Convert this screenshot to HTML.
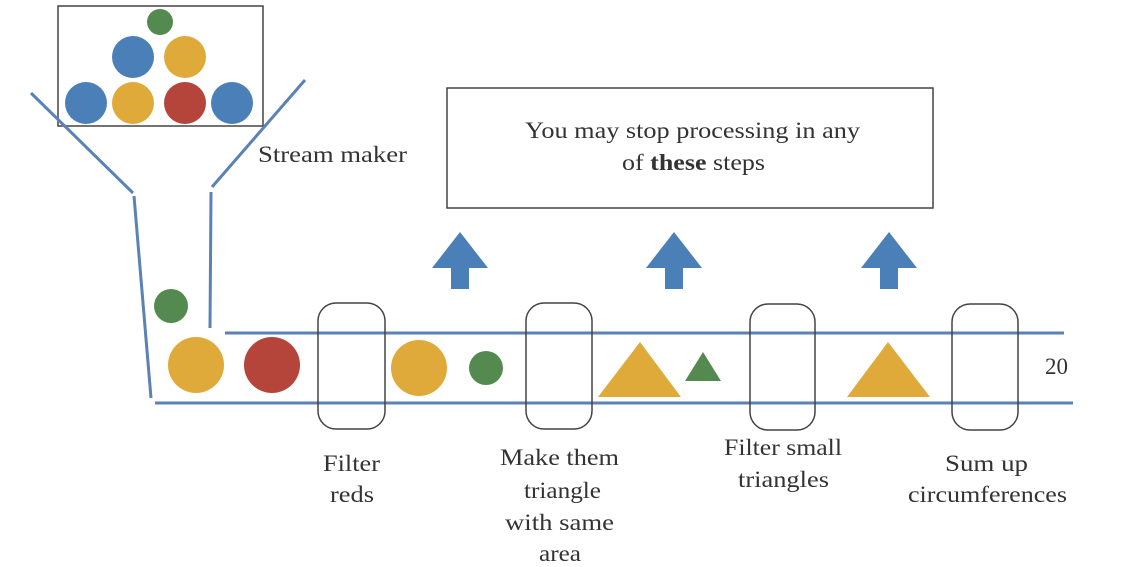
<!DOCTYPE html>
<html><head><meta charset="utf-8"><style>
html,body{margin:0;padding:0;background:#fff;}
svg{display:block;}
text{font-family:"Liberation Serif",serif;fill:#333;font-size:23px;}
</style></head><body>
<svg width="1125" height="567" viewBox="0 0 1125 567" xmlns="http://www.w3.org/2000/svg">
<rect x="58" y="6" width="205" height="120" fill="none" stroke="#444" stroke-width="1.5"/>
<circle cx="160" cy="22" r="13" fill="#548a4f"/>
<circle cx="133" cy="57" r="21" fill="#4a7fb8"/>
<circle cx="185" cy="57" r="21" fill="#e0aa3b"/>
<circle cx="86" cy="103" r="21" fill="#4a7fb8"/>
<circle cx="133" cy="103" r="21" fill="#e0aa3b"/>
<circle cx="185" cy="103" r="21" fill="#b5443b"/>
<circle cx="232" cy="103" r="21" fill="#4a7fb8"/>
<g stroke="#5b82b5" stroke-width="3" fill="none">
<line x1="31" y1="93" x2="133" y2="193"/>
<line x1="134" y1="196" x2="151" y2="398"/>
<line x1="305" y1="80" x2="212" y2="187"/>
<line x1="211" y1="192" x2="210" y2="328"/>
<line x1="225" y1="333" x2="1064" y2="333"/>
<line x1="155" y1="403" x2="1073" y2="403"/>
</g>
<text x="258" y="162" textLength="149" lengthAdjust="spacingAndGlyphs">Stream maker</text>
<circle cx="171" cy="306" r="17" fill="#548a4f"/>
<circle cx="196" cy="365" r="28" fill="#e0aa3b"/>
<circle cx="272" cy="365" r="28" fill="#b5443b"/>
<circle cx="419" cy="368" r="28" fill="#e0aa3b"/>
<circle cx="486" cy="368" r="17" fill="#548a4f"/>
<polygon points="598,397 681,397 640,342" fill="#e0aa3b"/>
<polygon points="685,381 721,381 703,352" fill="#548a4f"/>
<polygon points="847,397 930,397 888,342" fill="#e0aa3b"/>
<g fill="none" stroke="#444" stroke-width="1.5">
<rect x="318" y="303" width="67" height="126" rx="18"/>
<rect x="526" y="303" width="66" height="126" rx="18"/>
<rect x="750" y="304" width="65" height="126" rx="18"/>
<rect x="952" y="304" width="66" height="126" rx="18"/>
<rect x="447" y="88" width="486" height="120"/>
</g>
<g fill="#4a7fb8">
<polygon points="432,268 488,268 460,232"/><rect x="451" y="266" width="18" height="23"/>
<polygon points="646,268 702,268 674,232"/><rect x="665" y="266" width="18" height="23"/>
<polygon points="861,268 917,268 889,232"/><rect x="880" y="266" width="18" height="23"/>
</g>
<text x="1045" y="374">20</text>
<g lengthAdjust="spacingAndGlyphs">
<text x="525" y="138" textLength="335" lengthAdjust="spacingAndGlyphs">You may stop processing in any</text>
<text x="622" y="170" textLength="143" lengthAdjust="spacingAndGlyphs">of <tspan font-weight="bold">these</tspan> steps</text>
<text x="323" y="471" textLength="57" lengthAdjust="spacingAndGlyphs">Filter</text>
<text x="330" y="502" textLength="44" lengthAdjust="spacingAndGlyphs">reds</text>
<text x="500" y="465" textLength="119" lengthAdjust="spacingAndGlyphs">Make them</text>
<text x="524" y="498" textLength="77" lengthAdjust="spacingAndGlyphs">triangle</text>
<text x="505" y="530" textLength="109" lengthAdjust="spacingAndGlyphs">with same</text>
<text x="539" y="561" textLength="42" lengthAdjust="spacingAndGlyphs">area</text>
<text x="724" y="455" textLength="118" lengthAdjust="spacingAndGlyphs">Filter small</text>
<text x="738" y="487" textLength="91" lengthAdjust="spacingAndGlyphs">triangles</text>
<text x="945" y="471" textLength="83" lengthAdjust="spacingAndGlyphs">Sum up</text>
<text x="908" y="502" textLength="159" lengthAdjust="spacingAndGlyphs">circumferences</text>
</g>
</svg>
</body></html>
